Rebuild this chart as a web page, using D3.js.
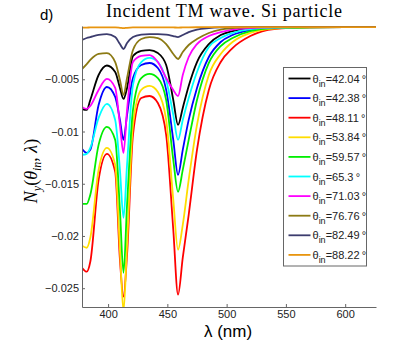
<!DOCTYPE html>
<html>
<head>
<meta charset="utf-8">
<script src="https://cdn.jsdelivr.net/npm/d3@7"></script>
<style>
  body { margin: 0; background: #fff; }
  svg { display: block; }
</style>
</head>
<body>
<svg id="chart" width="415" height="346"></svg>
<script>
// wavelength grid (nm)
const lambda = [378, 382, 385, 392, 399, 406, 410, 413, 416, 421, 428, 435, 442, 449, 455, 459, 463, 468, 475, 485, 495, 505, 520, 540, 570, 600, 626]

const angles = ["42.04", "42.38", "48.11", "53.84", "59.57", "65.3", "71.03", "76.76", "82.49", "88.22"]
const colors = ["#000000", "#0000ff", "#ff0000", "#ffdd00", "#00ee00", "#00ffff", "#ff00ff", "#8c7a14", "#3c3c6e", "#e8950f"]

const ny4204 = [-0.00784, -0.00793, -0.00698, -0.00459, -0.00368, -0.00430, -0.00583, -0.00688, -0.00583, -0.00277, -0.00229, -0.00220, -0.00249, -0.00363, -0.00698, -0.00937, -0.00774, -0.00564, -0.00335, -0.00163, -0.00076, -0.00038, -0.00010, -0.00003, -0.00001, 0, 0]
const ny4238 = [-0.01166, -0.01205, -0.01176, -0.00746, -0.00574, -0.00669, -0.00889, -0.01080, -0.00841, -0.00488, -0.00363, -0.00344, -0.00392, -0.00602, -0.01080, -0.01415, -0.01176, -0.00889, -0.00583, -0.00287, -0.00143, -0.00076, -0.00029, -0.00007, -0.00002, 0, 0]
const ny4811 = [-0.02304, -0.02342, -0.02247, -0.01463, -0.01214, -0.01386, -0.02227, -0.02581, -0.02180, -0.01032, -0.00679, -0.00660, -0.00727, -0.01032, -0.01941, -0.02562, -0.02208, -0.01797, -0.01176, -0.00602, -0.00335, -0.00201, -0.00086, -0.00019, -0.00004, -0.00001, 0]
const ny5384 = [-0.02094, -0.02113, -0.02017, -0.01367, -0.01157, -0.01319, -0.02132, -0.02720, -0.02084, -0.00937, -0.00602, -0.00564, -0.00621, -0.00889, -0.01654, -0.02132, -0.01893, -0.01463, -0.00937, -0.00459, -0.00258, -0.00143, -0.00057, -0.00014, -0.00003, -0.00001, 0]
const ny5957 = [-0.01692, -0.01692, -0.01606, -0.01128, -0.00956, -0.01080, -0.01750, -0.02352, -0.01702, -0.00793, -0.00488, -0.00449, -0.00488, -0.00698, -0.01271, -0.01577, -0.01367, -0.01080, -0.00698, -0.00344, -0.00182, -0.00105, -0.00038, -0.00010, -0.00002, 0, 0]
const ny653 = [-0.01224, -0.01214, -0.01157, -0.00870, -0.00736, -0.00889, -0.01367, -0.01826, -0.01319, -0.00554, -0.00335, -0.00296, -0.00335, -0.00507, -0.00841, -0.01080, -0.00889, -0.00679, -0.00430, -0.00191, -0.00105, -0.00057, -0.00019, -0.00005, -0.00001, 0, 0]
const ny7103 = [-0.00765, -0.00784, -0.00755, -0.00602, -0.00497, -0.00583, -0.00937, -0.01205, -0.00793, -0.00335, -0.00277, -0.00268, -0.00335, -0.00488, -0.00602, -0.00660, -0.00459, -0.00287, -0.00163, -0.00086, -0.00048, -0.00024, -0.00010, -0.00003, -0.00001, 0, 0]
const ny7676 = [-0.00402, -0.00354, -0.00315, -0.00258, -0.00249, -0.00335, -0.00507, -0.00650, -0.00488, -0.00220, -0.00115, -0.00096, -0.00105, -0.00163, -0.00258, -0.00306, -0.00239, -0.00172, -0.00115, -0.00057, -0.00024, -0.00010, -0.00002, 0, 0, 0, 0]
const ny8249 = [-0.00124, -0.00105, -0.00096, -0.00076, -0.00067, -0.00096, -0.00163, -0.00210, -0.00153, -0.00096, -0.00072, -0.00067, -0.00067, -0.00072, -0.00086, -0.00096, -0.00076, -0.00048, -0.00024, -0.00010, -0.00003, 0, 0, 0, 0, 0, 0]
const ny8822 = [-0.00006, -0.00005, -0.00004, -0.00003, -0.00003, -0.00004, -0.00007, -0.00010, -0.00007, -0.00004, -0.00003, -0.00003, -0.00003, -0.00003, -0.00004, -0.00005, -0.00004, -0.00003, -0.00002, -0.00001, 0, 0, 0, 0, 0, 0, 0]

const series = [ny4204, ny4238, ny4811, ny5384, ny5957, ny653, ny7103, ny7676, ny8249, ny8822]

const xTicks = [400, 450, 500, 550, 600]
const yTicks = [-0.005, -0.01, -0.015, -0.02, -0.025]
const yTickLabels = ["\u22120.005", "\u22120.01", "\u22120.015", "\u22120.02", "\u22120.025"]

const margin = { left: 82, right: 39, top: 26, bottom: 39 }
const W = 415, H = 346
const svg = d3.select("#chart")

const x = d3.scaleLinear().domain([378, 626]).range([margin.left, W - margin.right])
const y = d3.scaleLinear().domain([-0.0268, 0.0001]).range([H - margin.bottom, margin.top])

svg.append("defs").append("clipPath").attr("id", "plot")
  .append("rect")
  .attr("x", margin.left).attr("y", margin.top - 2)
  .attr("width", W - margin.left - margin.right)
  .attr("height", H - margin.top - margin.bottom + 2)

// curves
const line = d3.line()
  .x((d, i) => x(lambda[i]))
  .y(d => y(d))
  .curve(d3.curveMonotoneX)

svg.append("g").attr("clip-path", "url(#plot)")
  .selectAll("path")
  .data(series)
  .join("path")
  .attr("d", d => line(d))
  .attr("fill", "none")
  .attr("stroke", (d, i) => colors[i])
  .attr("stroke-width", 1.8)
  .attr("stroke-linejoin", "round")

// axes
const xAxis = d3.axisBottom(x).tickValues(xTicks).tickSizeInner(-3).tickSizeOuter(0).tickPadding(3)
const gx = svg.append("g").attr("transform", `translate(0,${H - margin.bottom})`).call(xAxis)

const yAxis = d3.axisLeft(y).tickValues(yTicks).tickFormat((d, i) => yTickLabels[i])
  .tickSizeInner(-3).tickSizeOuter(0).tickPadding(3)
const gy = svg.append("g").attr("transform", `translate(${margin.left},0)`).call(yAxis)

;[gx, gy].forEach(g => {
  g.select(".domain").attr("stroke", "#666").attr("stroke-width", 1)
  g.selectAll(".tick line").attr("stroke", "#666")
  g.selectAll(".tick text")
    .attr("fill", "#222")
    .style("font-family", "Liberation Sans, Arial, sans-serif")
    .style("font-size", "11px")
})

// title and panel letter
svg.append("text")
  .attr("x", 224).attr("y", 17)
  .attr("text-anchor", "middle")
  .attr("textLength", 236)
  .attr("lengthAdjust", "spacing")
  .style("font-family", "Liberation Serif, Times New Roman, serif")
  .style("font-size", "18px")
  .text("Incident TM wave. Si particle")

svg.append("text")
  .attr("x", 40).attr("y", 20)
  .style("font-family", "Liberation Sans, Arial, sans-serif")
  .style("font-size", "15px")
  .text("d)")

// x label
svg.append("text")
  .attr("x", 228).attr("y", 337)
  .attr("text-anchor", "middle")
  .style("font-family", "Liberation Sans, Arial, sans-serif")
  .style("font-size", "17px")
  .text("\u03bb (nm)")

// y label
const yl = svg.append("text")
  .attr("transform", "translate(37,171) rotate(-90)")
  .attr("text-anchor", "middle")
  .style("font-family", "Liberation Serif, Times New Roman, serif")
  .style("font-size", "18px")
yl.append("tspan").style("font-style", "italic").text("N")
yl.append("tspan").style("font-style", "italic").style("font-size", "12px").attr("dy", 4).text("y")
yl.append("tspan").attr("dy", -4).text("(")
yl.append("tspan").style("font-style", "italic").text("\u03b8")
yl.append("tspan").style("font-style", "italic").style("font-size", "12px").attr("dy", 4).text("in")
yl.append("tspan").attr("dy", -4).text(", ")
yl.append("tspan").style("font-style", "italic").text("\u03bb")
yl.append("tspan").text(")")

// legend
const lg = svg.append("g").attr("transform", "translate(283.5,67.5)")
lg.append("rect")
  .attr("width", 83).attr("height", 198.5)
  .attr("fill", "#fff").attr("stroke", "#666").attr("stroke-width", 1)

const items = lg.selectAll("g.item")
  .data(angles)
  .join("g")
  .attr("class", "item")
  .attr("transform", (d, i) => `translate(0,${11 + i * 19.6})`)

items.append("line")
  .attr("x1", 5).attr("x2", 27)
  .attr("stroke", (d, i) => colors[i])
  .attr("stroke-width", 1.8)

const lt = items.append("text")
  .attr("x", 29).attr("y", 4)
  .style("font-family", "Liberation Sans, Arial, sans-serif")
  .style("font-size", "11px")
  .attr("fill", "#222")
lt.append("tspan").text("\u03b8")
lt.append("tspan").attr("dy", 4).style("font-size", "9px").text("in")
lt.append("tspan").attr("dy", -4).text(d => "=" + d + "\u2009\u00b0")
</script>
</body>
</html>
